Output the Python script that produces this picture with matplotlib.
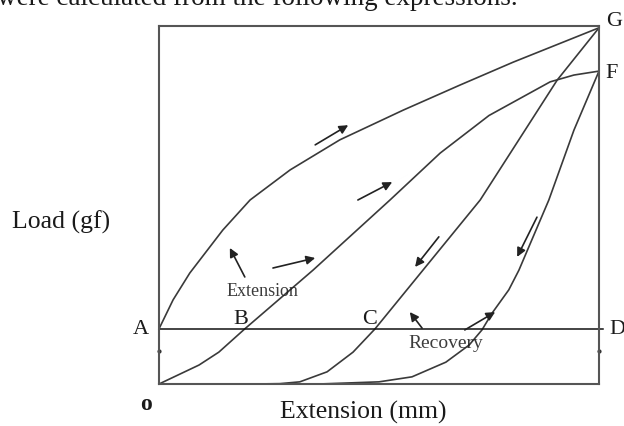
import numpy as np
import matplotlib
matplotlib.use("Agg")
import matplotlib.pyplot as plt

# curves, x and y in percent of the frame
ag_x = [0, 3.2, 7.0, 14.5, 20.7, 29.8, 41.1, 55.5, 68.4, 80.5, 100]
ag_y = [15.4, 23.5, 31.0, 43.0, 51.4, 59.8, 68.2, 76.5, 83.5, 89.9, 99.5]

obf_x = [0, 9.1, 13.6, 19.5, 35.0, 52.5, 63.9, 75.0, 88.9, 94.3, 100]
obf_y = [0, 5.3, 8.9, 15.4, 31.8, 51.4, 64.5, 75.0, 84.4, 86.3, 87.4]

cg_x = [21.8, 27.5, 32.0, 38.2, 44.1, 49.1, 73.0, 90.5, 100]
cg_y = [0, 0.1, 0.6, 3.4, 8.9, 15.4, 51.4, 84.9, 99.5]

rec_x = [36.4, 50.0, 57.5, 65.2, 70.5, 73.4, 75.7, 79.5, 81.8, 88.6, 94.3, 100]
rec_y = [0, 0.6, 2.0, 6.1, 10.9, 15.1, 19.8, 26.3, 31.8, 51.4, 70.9, 87.4]

level_a = 15.4
edge_dots_y = [9.2, 9.2]

# arrows: (start x, start y, end x, end y)
ext_arrows = [(35.5, 66.8, 43.0, 72.3), (45.2, 51.4, 53.0, 56.4),
              (25.9, 32.4, 35.5, 35.2), (19.5, 29.9, 16.1, 38.0)]
rec_arrows = [(63.6, 41.1, 58.2, 32.7), (85.9, 46.6, 81.4, 35.5),
              (59.8, 15.6, 57.0, 20.1), (69.5, 15.1, 76.4, 20.1)]

W, H = 624, 426
fig = plt.figure(figsize=(W / 100, H / 100), dpi=100)
ax = fig.add_axes([159 / W, 1 - 384 / H, 440 / W, 358 / H])
ax.set_xlim(0, 100)
ax.set_ylim(0, 100)
ax.set_xticks([])
ax.set_yticks([])
for s in ax.spines.values():
    s.set_color("#555555")
    s.set_linewidth(1.5)

lc = "#3a3a3a"
for xs, ys in [(ag_x, ag_y), (obf_x, obf_y), (cg_x, cg_y), (rec_x, rec_y)]:
    ax.plot(xs, ys, color=lc, lw=1.2, clip_on=False)

ax.plot([0, 100.8], [level_a, level_a], color="#111111", lw=1.1, clip_on=False)
ax.plot([0, 100], edge_dots_y, ls="none", marker="o", ms=2, color="#333333",
        clip_on=False)

for x0, y0, x1, y1 in ext_arrows + rec_arrows:
    ax.annotate("", xy=(x1, y1), xytext=(x0, y0),
                arrowprops=dict(arrowstyle="-|>", mutation_scale=13,
                                color="#222222", lw=1.2, shrinkA=0, shrinkB=0))

serif = "Liberation Serif"


def ftext(px, py, s, size, **kw):
    fig.text(px / W, 1 - py / H, s, fontsize=size, family=serif,
             color="#1a1a1a", **kw)


ftext(518, 5, "were calculated from the following expressions.", 19.5,
      ha="right", va="baseline")
ftext(12, 222, "Load (gf)", 18.5, ha="left", va="center")
ftext(363, 412, "Extension (mm)", 18.5, ha="center", va="center")
ftext(614, 22, "G", 16, ha="center", va="center")
ftext(612, 73, "F", 16, ha="center", va="center")
ftext(609, 330, "D", 16, ha="left", va="center")
ftext(141, 330, "A", 16, ha="center", va="center")
ftext(241, 320, "B", 16, ha="center", va="center")
ftext(370, 320, "C", 16, ha="center", va="center")
ftext(146, 404, "o", 17, ha="center", va="center", weight="bold")
ftext(262, 291, "Extension", 13, ha="center", va="center", alpha=0.85)
ftext(446, 343, "Recovery", 14, ha="center", va="center", alpha=0.85)

fig.savefig("out.png", dpi=100)
